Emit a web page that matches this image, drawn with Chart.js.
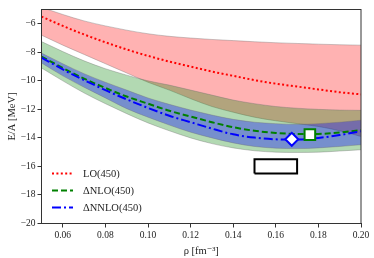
<!DOCTYPE html>
<html><head><meta charset="utf-8">
<script src="https://cdn.jsdelivr.net/npm/chart.js@4"></script>
<style>html,body{margin:0;padding:0;background:#fff}</style>
</head><body>
<canvas id="c" width="374" height="258"></canvas>
<script>
// ---- data ----
const rho = [0.05,0.06,0.07,0.08,0.09,0.10,0.11,0.12,0.13,0.14,0.15,0.16,0.17,0.18,0.19,0.20];
const loUpper   = [-4.85,-5.35,-5.8,-6.15,-6.45,-6.7,-6.88,-7.0,-7.1,-7.18,-7.26,-7.33,-7.38,-7.43,-7.47,-7.5];
const loCenter  = [-5.5,-6.15,-6.75,-7.3,-7.8,-8.25,-8.65,-9.0,-9.35,-9.65,-9.95,-10.2,-10.4,-10.6,-10.8,-10.95];
const loLower   = [-6.8,-7.5,-8.15,-8.8,-9.45,-10.1,-10.65,-11.25,-11.8,-12.2,-12.55,-12.8,-13.0,-13.2,-13.5,-13.9];
const nloUpper  = [-7.25,-7.95,-8.6,-9.15,-9.6,-10.0,-10.3,-10.65,-11.0,-11.35,-11.6,-11.8,-11.92,-12.0,-12.05,-12.07];
const nloCenter = [-8.3,-9.1,-9.85,-10.5,-11.1,-11.6,-12.1,-12.5,-12.9,-13.25,-13.5,-13.65,-13.72,-13.72,-13.62,-13.45];
const nloLower  = [-9.1,-10.0,-10.85,-11.6,-12.3,-12.95,-13.5,-14.0,-14.4,-14.7,-14.9,-15.0,-15.02,-15.0,-14.92,-14.83];
const nnloUpper = [-8.05,-8.8,-9.5,-10.1,-10.65,-11.2,-11.65,-12.05,-12.4,-12.7,-12.9,-13.0,-13.05,-13.0,-12.9,-12.76];
const nnloCenter= [-8.37,-9.2,-9.95,-10.65,-11.3,-11.9,-12.45,-12.9,-13.35,-13.75,-13.98,-14.1,-14.12,-14.0,-13.8,-13.54];
const nnloLower = [-8.75,-9.65,-10.45,-11.2,-11.95,-12.55,-13.1,-13.6,-14.0,-14.35,-14.6,-14.72,-14.75,-14.7,-14.6,-14.48];
const nloSatRho = [0.176],  nloSatE = [-13.77];
const nnloSatRho = [0.1675], nnloSatE = [-14.1];
const boxRho = [0.15, 0.17];
const boxE = [-16.5, -15.5];
const xTicks = [0.06,0.08,0.10,0.12,0.14,0.16,0.18,0.20];
const yTicks = [-20,-18,-16,-14,-12,-10,-8,-6];
const seriesLabels = ['LO(450)', '\u0394NLO(450)', '\u0394NNLO(450)'];

// ---- helpers ----
const pts = (xs, ys) => xs.map((x, i) => ({x: x, y: ys[i]}));
const boxPts = [
  {x: boxRho[0], y: boxE[0]}, {x: boxRho[1], y: boxE[0]},
  {x: boxRho[1], y: boxE[1]}, {x: boxRho[0], y: boxE[1]}, {x: boxRho[0], y: boxE[0]}
];
const edge = 'rgba(110,110,110,0.45)';
const band = (data, fill, bg, order) => ({
  data: data, fill: fill, backgroundColor: bg, borderColor: edge, borderWidth: 0.8,
  pointRadius: 0, cubicInterpolationMode: 'monotone', order: order
});
const curve = (data, color, dash, order) => ({
  data: data, fill: false, borderColor: color, borderWidth: 2, borderDash: dash,
  pointRadius: 0, cubicInterpolationMode: 'monotone', order: order
});
const styles = [
  {color: 'red', dash: [2, 2.4]},
  {color: 'green', dash: [6, 3]},
  {color: 'blue', dash: [9, 3, 2, 3]}
];

const serif = 'Liberation Serif, "DejaVu Serif", serif';

const framePlugin = {
  id: 'frame',
  afterDraw(chart) {
    const {ctx, chartArea: a} = chart;
    ctx.save();
    ctx.strokeStyle = '#333';
    ctx.lineWidth = 1;
    ctx.strokeRect(a.left, a.top, a.right - a.left, a.bottom - a.top);
    ctx.restore();
  }
};
const legendPlugin = {
  id: 'innerLegend',
  afterDraw(chart) {
    const {ctx} = chart;
    const rows = [173.5, 190.5, 207.5];
    ctx.save();
    ctx.font = '10.5px ' + serif;
    ctx.textBaseline = 'middle';
    seriesLabels.forEach((lab, i) => {
      ctx.beginPath();
      ctx.setLineDash(styles[i].dash);
      ctx.strokeStyle = styles[i].color;
      ctx.lineWidth = 2;
      ctx.moveTo(52, rows[i]);
      ctx.lineTo(73, rows[i]);
      ctx.stroke();
      ctx.setLineDash([]);
      ctx.fillStyle = '#222';
      ctx.fillText(lab, 83, rows[i] + 0.5);
    });
    ctx.restore();
  }
};

new Chart(document.getElementById('c'), {
  type: 'line',
  data: {
    datasets: [
      band(pts(rho, loUpper), '+1', 'rgba(255,0,0,0.3)', 12),
      band(pts(rho, loLower), false, 'rgba(0,0,0,0)', 11),
      band(pts(rho, nloUpper), '+1', 'rgba(0,128,0,0.3)', 10),
      band(pts(rho, nloLower), false, 'rgba(0,0,0,0)', 9),
      band(pts(rho, nnloUpper), '+1', 'rgba(0,0,255,0.34)', 8),
      band(pts(rho, nnloLower), false, 'rgba(0,0,0,0)', 7),
      Object.assign(curve(pts(rho, loCenter), styles[0].color, styles[0].dash, 3), {label: seriesLabels[0]}),
      Object.assign(curve(pts(rho, nloCenter), styles[1].color, styles[1].dash, 2), {label: seriesLabels[1]}),
      Object.assign(curve(pts(rho, nnloCenter), styles[2].color, styles[2].dash, 1), {label: seriesLabels[2]}),
      {data: boxPts, fill: 'shape', backgroundColor: '#fff', borderColor: '#000', borderWidth: 2,
       tension: 0, pointRadius: 0, order: 0.5},
      {data: pts(nnloSatRho, nnloSatE), showLine: false, pointStyle: 'rectRot', pointRadius: 6.5,
       pointBackgroundColor: '#fff', pointBorderColor: 'blue', pointBorderWidth: 2, order: 0.2, clip: false},
      {data: pts(nloSatRho, nloSatE), showLine: false, pointStyle: 'rect', pointRadius: 7.5,
       pointBackgroundColor: '#fff', pointBorderColor: 'green', pointBorderWidth: 2, order: 0.1, clip: false}
    ]
  },
  options: {
    responsive: false,
    animation: false,
    devicePixelRatio: 1,
    layout: {padding: {left: 0, top: 5, right: 13, bottom: 0}},
    plugins: {legend: {display: false}, tooltip: {enabled: false}},
    scales: {
      x: {
        type: 'linear', min: 0.05, max: 0.20,
        afterBuildTicks: s => { s.ticks = xTicks.map(v => ({value: v})); },
        afterFit: s => { s.height = 34.5; },
        grid: {drawOnChartArea: false, drawTicks: true, tickLength: 4, tickColor: '#333'},
        border: {display: true, color: '#333'},
        ticks: {color: '#222', font: {family: serif, size: 9.5}, padding: 2,
                maxRotation: 0, autoSkip: false, callback: v => v.toFixed(2)},
        title: {display: true, text: '\u03C1 [fm\u207B\u00B3]', color: '#222',
                font: {family: serif, size: 10.5}, padding: {top: 2, bottom: 0}}
      },
      y: {
        type: 'linear', min: -20, max: -5,
        afterBuildTicks: s => { s.ticks = yTicks.map(v => ({value: v})); },
        afterFit: s => { s.width = 41.5; },
        grid: {drawOnChartArea: false, drawTicks: true, tickLength: 4, tickColor: '#333'},
        border: {display: true, color: '#333'},
        ticks: {color: '#222', font: {family: serif, size: 9.5}, padding: 2,
                autoSkip: false, callback: v => (v < 0 ? '\u2212' + Math.abs(v) : String(v))},
        title: {display: true, text: 'E/A [MeV]', color: '#222',
                font: {family: serif, size: 10.5}, padding: {top: 6, bottom: 2}}
      }
    }
  },
  plugins: [framePlugin, legendPlugin]
});
</script>
</body></html>
